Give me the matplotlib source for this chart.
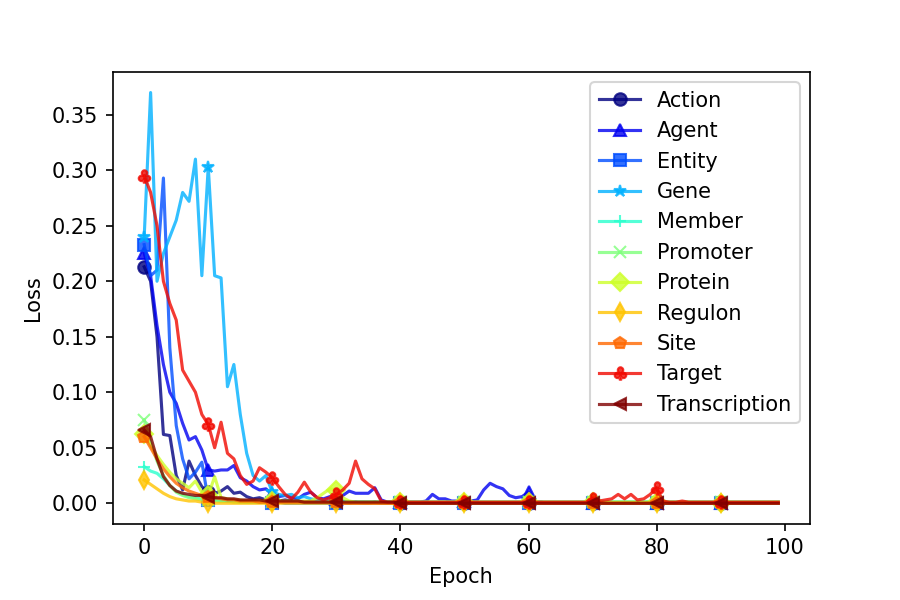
import numpy as np
import matplotlib
matplotlib.use("Agg")
import matplotlib.pyplot as plt

# loss per epoch for each label
epochs = list(range(100))

labels = ["Action", "Agent", "Entity", "Gene", "Member", "Promoter",
          "Protein", "Regulon", "Site", "Target", "Transcription"]

action = [
    0.213, 0.200, 0.150, 0.062, 0.061, 0.025, 0.012, 0.038, 0.025, 0.015,
    0.010, 0.009, 0.011, 0.015, 0.009, 0.010, 0.006, 0.004, 0.005, 0.003,
    0.003, 0.002, 0.003, 0.002, 0.002, 0.001, 0.002, 0.001, 0.001, 0.001,
    0.001, 0.001, 0.000, 0.001, 0.000, 0.000, 0.001, 0.000, 0.000, 0.000,
    0.000, 0.000, 0.000, 0.000, 0.000, 0.000, 0.000, 0.000, 0.000, 0.000,
    0.000, 0.000, 0.000, 0.000, 0.000, 0.000, 0.000, 0.000, 0.000, 0.000,
    0.000, 0.000, 0.000, 0.000, 0.000, 0.000, 0.000, 0.000, 0.000, 0.000,
    0.000, 0.000, 0.000, 0.000, 0.000, 0.000, 0.000, 0.000, 0.000, 0.000,
    0.000, 0.000, 0.000, 0.000, 0.000, 0.000, 0.000, 0.000, 0.000, 0.000,
    0.000, 0.000, 0.000, 0.000, 0.000, 0.000, 0.000, 0.000, 0.000, 0.000,
]
agent = [
    0.225, 0.205, 0.160, 0.125, 0.100, 0.090, 0.072, 0.057, 0.060, 0.048,
    0.030, 0.029, 0.030, 0.030, 0.034, 0.023, 0.020, 0.015, 0.012, 0.013,
    0.008, 0.006, 0.007, 0.005, 0.004, 0.008, 0.010, 0.005, 0.004, 0.006,
    0.004, 0.007, 0.011, 0.009, 0.009, 0.009, 0.014, 0.003, 0.001, 0.001,
    0.001, 0.001, 0.001, 0.001, 0.002, 0.008, 0.004, 0.004, 0.002, 0.002,
    0.002, 0.002, 0.003, 0.012, 0.018, 0.015, 0.013, 0.007, 0.005, 0.006,
    0.010, 0.001, 0.001, 0.000, 0.000, 0.000, 0.000, 0.000, 0.000, 0.000,
    0.000, 0.000, 0.000, 0.000, 0.000, 0.000, 0.000, 0.000, 0.000, 0.000,
    0.000, 0.000, 0.000, 0.000, 0.000, 0.000, 0.000, 0.000, 0.000, 0.000,
    0.000, 0.000, 0.000, 0.000, 0.000, 0.000, 0.000, 0.000, 0.000, 0.000,
]
entity = [
    0.233, 0.205, 0.210, 0.293, 0.140, 0.070, 0.040, 0.022, 0.028, 0.037,
    0.003, 0.004, 0.003, 0.002, 0.002, 0.002, 0.001, 0.001, 0.001, 0.001,
    0.000, 0.001, 0.000, 0.000, 0.000, 0.000, 0.000, 0.000, 0.000, 0.000,
    0.000, 0.000, 0.000, 0.000, 0.000, 0.000, 0.000, 0.000, 0.000, 0.000,
    0.000, 0.000, 0.000, 0.000, 0.000, 0.000, 0.000, 0.000, 0.000, 0.000,
    0.000, 0.000, 0.000, 0.000, 0.000, 0.000, 0.000, 0.000, 0.000, 0.000,
    0.000, 0.000, 0.000, 0.000, 0.000, 0.000, 0.000, 0.000, 0.000, 0.000,
    0.000, 0.000, 0.000, 0.000, 0.000, 0.000, 0.000, 0.000, 0.000, 0.000,
    0.000, 0.000, 0.000, 0.000, 0.000, 0.000, 0.000, 0.000, 0.000, 0.000,
    0.000, 0.000, 0.000, 0.000, 0.000, 0.000, 0.000, 0.000, 0.000, 0.000,
]
gene = [
    0.240, 0.370, 0.200, 0.225, 0.240, 0.255, 0.280, 0.272, 0.310, 0.205,
    0.303, 0.205, 0.203, 0.105, 0.125, 0.080, 0.045, 0.025, 0.020, 0.025,
    0.010, 0.008, 0.007, 0.008, 0.005, 0.006, 0.004, 0.003, 0.003, 0.002,
    0.002, 0.002, 0.001, 0.001, 0.001, 0.001, 0.001, 0.001, 0.001, 0.001,
    0.001, 0.001, 0.001, 0.001, 0.001, 0.001, 0.001, 0.001, 0.001, 0.001,
    0.001, 0.001, 0.001, 0.001, 0.001, 0.001, 0.001, 0.001, 0.001, 0.001,
    0.001, 0.001, 0.001, 0.001, 0.001, 0.001, 0.001, 0.001, 0.001, 0.001,
    0.001, 0.001, 0.001, 0.001, 0.001, 0.001, 0.001, 0.001, 0.001, 0.001,
    0.001, 0.001, 0.001, 0.001, 0.001, 0.001, 0.001, 0.001, 0.001, 0.001,
    0.001, 0.001, 0.001, 0.001, 0.001, 0.001, 0.001, 0.001, 0.001, 0.001,
]
member = [
    0.033, 0.029, 0.027, 0.022, 0.016, 0.011, 0.008, 0.006, 0.005, 0.004,
    0.003, 0.003, 0.002, 0.002, 0.002, 0.001, 0.001, 0.001, 0.001, 0.001,
    0.001, 0.001, 0.001, 0.001, 0.001, 0.001, 0.001, 0.001, 0.001, 0.001,
    0.001, 0.001, 0.001, 0.001, 0.001, 0.001, 0.001, 0.001, 0.001, 0.001,
    0.001, 0.001, 0.001, 0.001, 0.001, 0.001, 0.001, 0.001, 0.001, 0.001,
    0.001, 0.001, 0.001, 0.001, 0.001, 0.001, 0.001, 0.001, 0.001, 0.001,
    0.001, 0.001, 0.001, 0.001, 0.001, 0.001, 0.001, 0.001, 0.001, 0.001,
    0.002, 0.002, 0.001, 0.001, 0.001, 0.001, 0.001, 0.001, 0.001, 0.001,
    0.001, 0.001, 0.001, 0.001, 0.001, 0.001, 0.001, 0.001, 0.001, 0.001,
    0.001, 0.001, 0.001, 0.001, 0.001, 0.001, 0.001, 0.001, 0.001, 0.001,
]
promoter = [
    0.075, 0.055, 0.038, 0.025, 0.016, 0.010, 0.007, 0.005, 0.004, 0.003,
    0.003, 0.002, 0.002, 0.002, 0.001, 0.001, 0.001, 0.001, 0.001, 0.001,
    0.001, 0.001, 0.001, 0.001, 0.001, 0.001, 0.001, 0.001, 0.001, 0.001,
    0.001, 0.001, 0.001, 0.001, 0.001, 0.001, 0.001, 0.001, 0.001, 0.001,
    0.001, 0.001, 0.001, 0.001, 0.001, 0.001, 0.001, 0.001, 0.001, 0.001,
    0.001, 0.001, 0.001, 0.001, 0.001, 0.001, 0.001, 0.001, 0.001, 0.001,
    0.001, 0.001, 0.001, 0.001, 0.001, 0.001, 0.001, 0.001, 0.001, 0.001,
    0.001, 0.001, 0.001, 0.001, 0.001, 0.001, 0.001, 0.001, 0.001, 0.001,
    0.001, 0.001, 0.001, 0.001, 0.001, 0.001, 0.001, 0.001, 0.001, 0.001,
    0.001, 0.001, 0.001, 0.001, 0.001, 0.001, 0.001, 0.001, 0.001, 0.001,
]
protein = [
    0.062, 0.052, 0.043, 0.035, 0.028, 0.022, 0.018, 0.014, 0.020, 0.010,
    0.007, 0.024, 0.005, 0.004, 0.003, 0.003, 0.002, 0.002, 0.002, 0.002,
    0.002, 0.002, 0.002, 0.002, 0.002, 0.002, 0.002, 0.005, 0.009, 0.013,
    0.012, 0.005, 0.002, 0.001, 0.001, 0.001, 0.001, 0.001, 0.001, 0.001,
    0.001, 0.001, 0.001, 0.001, 0.001, 0.001, 0.001, 0.001, 0.001, 0.001,
    0.001, 0.001, 0.001, 0.001, 0.001, 0.001, 0.001, 0.001, 0.001, 0.001,
    0.001, 0.001, 0.001, 0.001, 0.001, 0.001, 0.001, 0.001, 0.001, 0.001,
    0.001, 0.001, 0.001, 0.001, 0.001, 0.001, 0.001, 0.001, 0.001, 0.001,
    0.001, 0.001, 0.001, 0.001, 0.001, 0.001, 0.001, 0.001, 0.001, 0.001,
    0.000, 0.001, 0.001, 0.001, 0.001, 0.001, 0.001, 0.001, 0.001, 0.001,
]
regulon = [
    0.021, 0.017, 0.013, 0.009, 0.006, 0.004, 0.003, 0.002, 0.002, 0.001,
    0.000, 0.000, 0.000, 0.000, 0.000, 0.000, 0.000, 0.000, 0.000, 0.000,
    0.000, 0.000, 0.000, 0.000, 0.000, 0.000, 0.000, 0.000, 0.000, 0.000,
    0.000, 0.000, 0.000, 0.000, 0.000, 0.000, 0.000, 0.000, 0.000, 0.000,
    0.000, 0.000, 0.000, 0.000, 0.000, 0.000, 0.000, 0.000, 0.000, 0.000,
    0.000, 0.000, 0.000, 0.000, 0.000, 0.000, 0.000, 0.000, 0.000, 0.000,
    0.000, 0.000, 0.000, 0.000, 0.000, 0.000, 0.000, 0.000, 0.000, 0.000,
    0.000, 0.000, 0.000, 0.000, 0.000, 0.000, 0.000, 0.000, 0.000, 0.000,
    0.000, 0.000, 0.000, 0.000, 0.000, 0.000, 0.000, 0.000, 0.000, 0.000,
    0.000, 0.000, 0.000, 0.000, 0.000, 0.000, 0.000, 0.000, 0.000, 0.000,
]
site = [
    0.060, 0.050, 0.040, 0.031, 0.024, 0.018, 0.014, 0.011, 0.009, 0.007,
    0.006, 0.005, 0.004, 0.003, 0.003, 0.002, 0.002, 0.002, 0.001, 0.001,
    0.001, 0.001, 0.001, 0.001, 0.001, 0.001, 0.001, 0.001, 0.001, 0.001,
    0.001, 0.000, 0.000, 0.000, 0.000, 0.000, 0.000, 0.000, 0.000, 0.000,
    0.000, 0.000, 0.000, 0.000, 0.000, 0.000, 0.000, 0.000, 0.000, 0.000,
    0.000, 0.000, 0.000, 0.000, 0.000, 0.000, 0.000, 0.000, 0.000, 0.000,
    0.000, 0.000, 0.000, 0.000, 0.000, 0.000, 0.000, 0.000, 0.000, 0.000,
    0.000, 0.000, 0.000, 0.000, 0.000, 0.000, 0.000, 0.000, 0.000, 0.000,
    0.000, 0.000, 0.000, 0.000, 0.000, 0.000, 0.000, 0.000, 0.000, 0.000,
    0.000, 0.000, 0.000, 0.000, 0.000, 0.000, 0.000, 0.000, 0.000, 0.000,
]
target = [
    0.295, 0.280, 0.250, 0.200, 0.180, 0.165, 0.120, 0.110, 0.100, 0.080,
    0.071, 0.050, 0.073, 0.045, 0.040, 0.025, 0.017, 0.020, 0.032, 0.028,
    0.023, 0.015, 0.008, 0.004, 0.010, 0.019, 0.010, 0.005, 0.003, 0.005,
    0.008, 0.012, 0.018, 0.038, 0.022, 0.017, 0.013, 0.002, 0.001, 0.001,
    0.001, 0.001, 0.001, 0.001, 0.001, 0.001, 0.001, 0.001, 0.001, 0.001,
    0.001, 0.001, 0.001, 0.001, 0.001, 0.001, 0.001, 0.001, 0.001, 0.001,
    0.001, 0.001, 0.001, 0.001, 0.001, 0.001, 0.001, 0.001, 0.001, 0.001,
    0.004, 0.002, 0.003, 0.004, 0.008, 0.004, 0.008, 0.003, 0.004, 0.008,
    0.014, 0.002, 0.001, 0.001, 0.002, 0.001, 0.001, 0.001, 0.001, 0.001,
    0.001, 0.001, 0.001, 0.001, 0.001, 0.001, 0.001, 0.001, 0.001, 0.001,
]
transcription = [
    0.066, 0.060, 0.040, 0.024, 0.016, 0.011, 0.009, 0.008, 0.007, 0.007,
    0.006, 0.005, 0.005, 0.004, 0.004, 0.003, 0.003, 0.003, 0.003, 0.002,
    0.002, 0.002, 0.002, 0.002, 0.002, 0.001, 0.001, 0.001, 0.001, 0.001,
    0.001, 0.001, 0.001, 0.001, 0.001, 0.001, 0.001, 0.001, 0.001, 0.001,
    0.000, 0.000, 0.000, 0.000, 0.000, 0.000, 0.000, 0.000, 0.000, 0.000,
    0.000, 0.000, 0.000, 0.000, 0.000, 0.000, 0.000, 0.000, 0.000, 0.000,
    0.000, 0.000, 0.000, 0.000, 0.000, 0.000, 0.000, 0.000, 0.000, 0.000,
    0.000, 0.000, 0.000, 0.000, 0.000, 0.000, 0.000, 0.000, 0.000, 0.000,
    0.000, 0.000, 0.000, 0.000, 0.000, 0.000, 0.000, 0.000, 0.000, 0.000,
    0.000, 0.000, 0.000, 0.000, 0.000, 0.000, 0.000, 0.000, 0.000, 0.000,
]

series = [action, agent, entity, gene, member, promoter,
          protein, regulon, site, target, transcription]
markers = ['o', '^', 's', '*', '+', 'x', 'D', 'd', 'p', r'$\clubsuit$', '<']
colors = plt.cm.jet(np.linspace(0, 1, len(labels)))

fig = plt.figure(figsize=(6, 4), dpi=150)
ax = fig.add_subplot(111)
fig.subplots_adjust(bottom=0.127)

for vals, lab, mk, col in zip(series, labels, markers, colors):
    ax.plot(epochs, vals, marker=mk, markevery=10, color=col,
            alpha=0.8, label=lab)

ax.set_xlabel("Epoch")
ax.set_ylabel("Loss")
ax.legend(loc='upper right')

plt.savefig('out.png', dpi=150)
